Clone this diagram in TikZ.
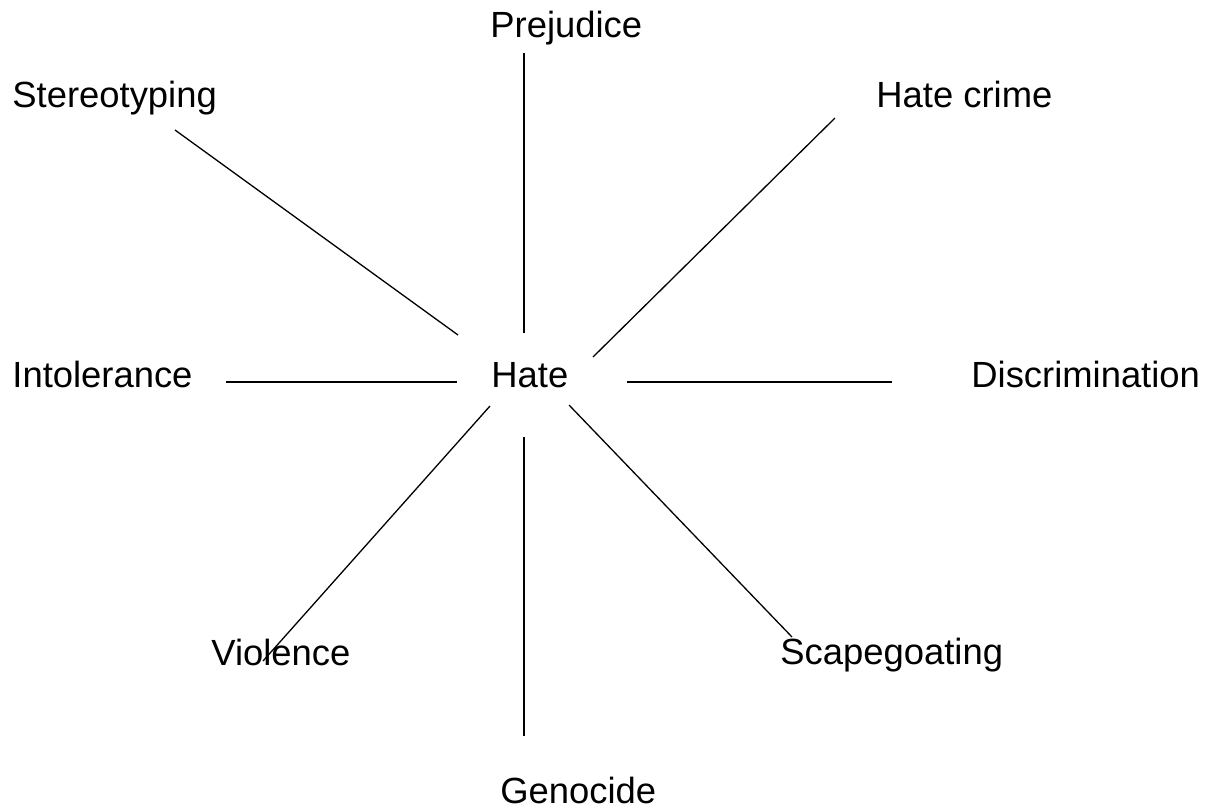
\documentclass[tikz,border=0pt]{standalone}
\usepackage{fontspec}
\setmainfont{Liberation Sans}
\usetikzlibrary{positioning}

\tikzset{
  word/.style={inner sep=0pt, anchor=base west, font=\fontsize{18.2}{22}\selectfont},
  spoke/.style={line width=0.65pt, black}
}

\begin{document}
\begin{tikzpicture}[x=0.5pt, y=-0.5pt]
  \useasboundingbox (0,0) rectangle (1212,810);
  % words round the hub
  \node[word] (hate) at (491,387) {Hate};
  \node[word] (prej) at (490,37) {Prejudice};
  \node[word] (ster) at (12,107) {Stereotyping};
  \node[word] (crime) at (876,107) {Hate crime};
  \node[word] (intol) at (12,387) {Intolerance};
  \node[word] (discr) at (971,387) {Discrimination};
  \node[word] (viol) at (211,665) {Violence};
  \node[word] (scape) at (780,664) {Scapegoating};
  \node[word] (geno) at (500,803) {Genocide};
  % spoke ends
  \coordinate (prej-a) at (524,333);  \coordinate (prej-b) at (524,53);
  \coordinate (ster-a) at (458,335);  \coordinate (ster-b) at (175,130);
  \coordinate (crime-a) at (593,357); \coordinate (crime-b) at (835,118);
  \coordinate (intol-a) at (457,382); \coordinate (intol-b) at (226,382);
  \coordinate (discr-a) at (627,382); \coordinate (discr-b) at (892,382);
  \coordinate (viol-a) at (490,406);  \coordinate (viol-b) at (263,661);
  \coordinate (scape-a) at (569,405); \coordinate (scape-b) at (792,637);
  \coordinate (geno-a) at (524,437);  \coordinate (geno-b) at (524,736);
  \foreach \s in {prej,ster,crime,intol,discr,viol,scape,geno}
    \draw[spoke] (\s-a) -- (\s-b);
\end{tikzpicture}
\end{document}
